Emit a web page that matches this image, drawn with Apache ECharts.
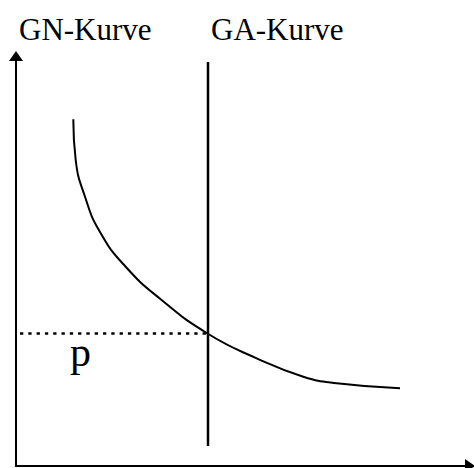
<!DOCTYPE html>
<html>
<head>
<meta charset="utf-8">
<script src="https://cdn.jsdelivr.net/npm/echarts@6/dist/echarts.min.js"></script>
<style>
  html, body { margin: 0; padding: 0; background: #fff; }
  #chart { width: 474px; height: 468px; }
</style>
</head>
<body>
<div id="chart"></div>
<script>
// units: 1 unit = 1 px of the reference, origin at the axes' corner
var gnCurve = [
    [57.3, 346.7], [59.7, 306], [69, 269.3], [84, 234], [109, 200],
    [145, 166.5], [191.5, 132.5], [240.7, 107.7], [287.3, 89.3],
    [320.7, 82.7], [384, 77.7]
];
var gaLine = [[192, 20], [192, 404]];
var pLine = [[4, 132.5], [192, 132.5]];
var xMax = 454;
var yMax = 410;

var font = "'Liberation Serif', 'Times New Roman', serif";

var chart = echarts.init(document.getElementById('chart'), null, { renderer: 'svg' });

var axisLine = {
    show: true,
    onZero: false,
    symbol: ['none', 'triangle'],
    symbolSize: [14, 10],
    lineStyle: { color: '#000', width: 2 }
};

chart.setOption({
    animation: false,
    grid: { left: 16, right: 4, top: 56, bottom: 2 },
    xAxis: {
        type: 'value', min: 0, max: xMax,
        axisLine: axisLine,
        axisTick: { show: false }, axisLabel: { show: false }, splitLine: { show: false }
    },
    yAxis: {
        type: 'value', min: 0, max: yMax,
        axisLine: axisLine,
        axisTick: { show: false }, axisLabel: { show: false }, splitLine: { show: false }
    },
    graphic: [
        { type: 'text', left: 19, top: 14, style: { text: 'GN-Kurve', font: '31px ' + font, fill: '#000' } },
        { type: 'text', left: 211, top: 14, style: { text: 'GA-Kurve', font: '31px ' + font, fill: '#000' } },
        { type: 'text', left: 70, top: 331, style: { text: 'p', font: '42px ' + font, fill: '#000' } }
    ],
    series: [
        {
            type: 'line', data: gnCurve, smooth: 0.5,
            symbol: 'none', lineStyle: { color: '#000', width: 2 }
        },
        {
            type: 'line', data: gaLine, symbol: 'none',
            lineStyle: { color: '#000', width: 2.5 }
        },
        {
            type: 'line', data: pLine, symbol: 'none',
            lineStyle: { color: '#000', width: 2.5, type: [3.3, 5] }
        }
    ]
});
</script>
</body>
</html>
